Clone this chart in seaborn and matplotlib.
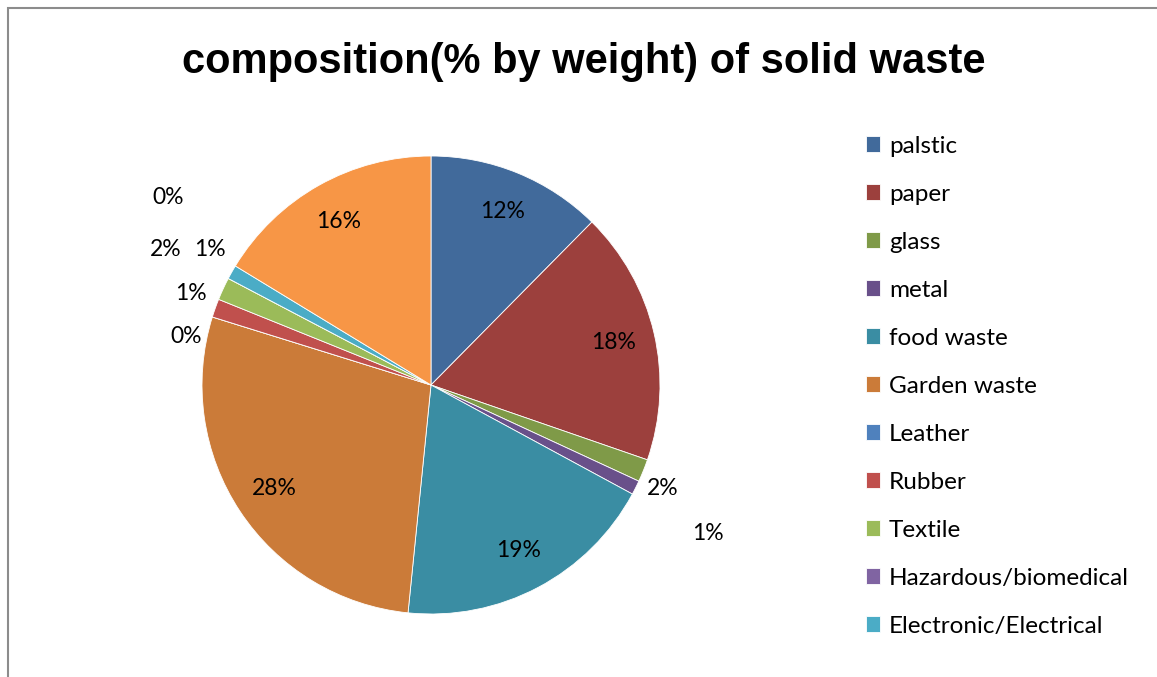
import matplotlib.pyplot as plt
import seaborn as sns
from matplotlib.patches import Rectangle

# data (percent by weight)
categories = ["palstic", "paper", "glass", "metal", "food waste", "Garden waste",
              "Leather", "Rubber", "Textile", "Hazardous/biomedical",
              "Electronic/Electrical", "Others"]
shares = [12.4, 17.9, 1.6, 1.0, 18.7, 28.2, 0.0, 1.3, 1.6, 0.0, 1.0, 16.3]
legend_count = 11  # the legend in the source only lists the first 11 entries

colors = sns.color_palette([
    "#416a9b", "#9c403d", "#7f9a48", "#69508a", "#3a8da3", "#cb7b39",
    "#4f81bd", "#c0504d", "#9bbb59", "#8064a2", "#4bacc6", "#f79646",
])

# manual positions for the small-slice labels (pie radius = 1)
small_label_pos = {
    2: (1.01, -0.45), 3: (1.21, -0.65), 6: (-1.07, 0.21), 7: (-1.05, 0.40),
    8: (-1.16, 0.59), 9: (-1.15, 0.82), 10: (-0.965, 0.59),
}

sns.set_theme(style="white")
plt.rcParams["font.family"] = ["Lato", "DejaVu Sans"]
plt.rcParams["text.color"] = "black"

fig = plt.figure(figsize=(11.57, 6.77), dpi=100)
ax = fig.add_axes([202 / 1157, 1 - 614 / 677, 458 / 1157, 458 / 677])

wedges, texts, autotexts = ax.pie(
    shares,
    colors=colors,
    startangle=90,
    counterclock=False,
    autopct=lambda p: f"{p:.0f}%",
    pctdistance=0.82,
    wedgeprops={"linewidth": 0.6, "edgecolor": "white"},
    textprops={"fontsize": 16.5, "color": "black"},
)
for i, (x, y) in small_label_pos.items():
    autotexts[i].set_position((x, y))
ax.set_xlim(-1, 1)
ax.set_ylim(-1, 1)
ax.set_aspect("auto")

fig.text(584 / 1157, 1 - 62 / 677, "composition(% by weight) of solid waste",
         ha="center", va="center", fontsize=30, fontweight="bold",
         color="black", family=["Liberation Sans", "DejaVu Sans"])

fig.legend(wedges[:legend_count], categories[:legend_count],
           loc="upper left", bbox_to_anchor=(856 / 1157, 1 - 126 / 677),
           frameon=False, fontsize=17.5, labelcolor="black",
           handlelength=0.6, handleheight=0.6,
           handletextpad=0.35, labelspacing=1.11, borderaxespad=0)

fig.add_artist(Rectangle((8 / 1157, -0.2), 1.2, 1.2 - 8 / 677,
                         transform=fig.transFigure, fill=False,
                         edgecolor="#8c8c8c", linewidth=1.5))

fig.savefig("out.png", dpi=100)
plt.close(fig)
